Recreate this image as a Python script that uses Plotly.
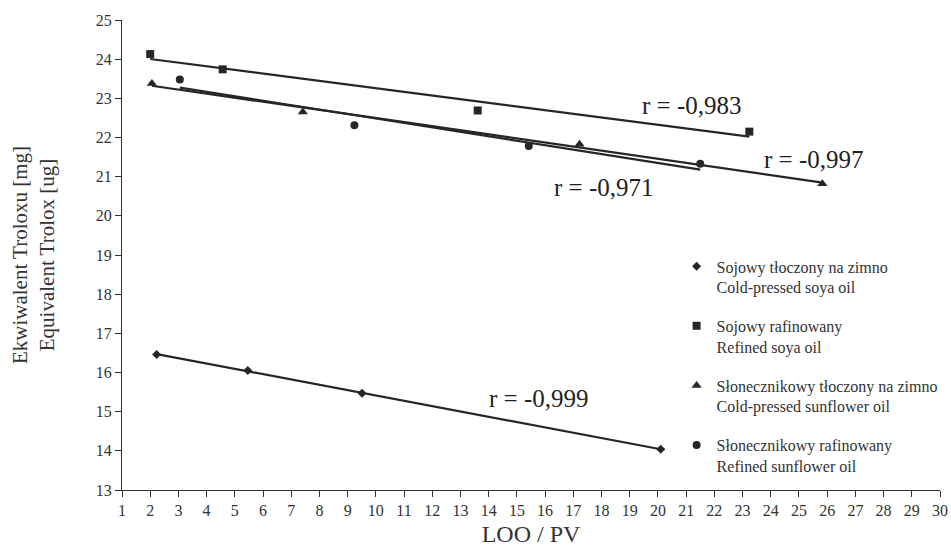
import numpy as np
import plotly.graph_objects as go

# Data
soy_cold_x = [2.23, 5.46, 9.51, 20.1]
soy_cold_y = [16.46, 16.05, 15.47, 14.04]
soy_ref_x = [2.0, 4.57, 13.61, 23.24]
soy_ref_y = [24.13, 23.74, 22.69, 22.15]
sun_cold_x = [2.06, 7.41, 17.22, 25.83]
sun_cold_y = [23.38, 22.65, 21.83, 20.82]
sun_ref_x = [3.05, 9.24, 15.42, 21.5]
sun_ref_y = [23.48, 22.31, 21.78, 21.33]

names = [
    "Sojowy tłoczony na zimno<br>Cold-pressed soya oil",
    "Sojowy rafinowany<br>Refined soya oil",
    "Słonecznikowy tłoczony na zimno<br>Cold-pressed sunflower oil",
    "Słonecznikowy rafinowany<br>Refined sunflower oil",
]
r_labels = ["r = -0,999", "r = -0,983", "r = -0,997", "r = -0,971"]
r_pos_x = [15.8, 21.2, 25.54, 18.1]
r_pos_y = [15.34, 22.82, 21.44, 20.73]
x_ticks = list(range(1, 31))
y_ticks = list(range(13, 26))

series = [
    (soy_cold_x, soy_cold_y, "diamond", 7),
    (soy_ref_x, soy_ref_y, "square", 8),
    (sun_cold_x, sun_cold_y, "triangle-up", 9),
    (sun_ref_x, sun_ref_y, "circle", 8),
]

COL = "#262626"
FONT = "Liberation Serif"

fig = go.Figure()
# trendlines
for (xs, ys, sym, sz) in series:
    a, b = np.polyfit(xs, ys, 1)
    lx = np.array([min(xs), max(xs)])
    fig.add_trace(go.Scatter(x=lx, y=a * lx + b, mode="lines",
                             line=dict(color=COL, width=2.2),
                             showlegend=False, hoverinfo="skip"))
# markers
for i, (xs, ys, sym, sz) in enumerate(series):
    fig.add_trace(go.Scatter(x=xs, y=ys, mode="markers", name=names[i],
                             legendgroup=f"g{i}",
                             marker=dict(symbol=sym, size=sz, color=COL)))

for t, x, y in zip(r_labels, r_pos_x, r_pos_y):
    fig.add_annotation(x=x, y=y, text=t, showarrow=False,
                       font=dict(family=FONT, size=25, color="#222"))

fig.update_layout(
    width=951, height=558,
    margin=dict(l=122, r=11, t=20, b=68, autoexpand=False),
    paper_bgcolor="white", plot_bgcolor="white",
    font=dict(family=FONT, color="#333", size=16),
    legend=dict(x=0.678, y=0.512, xanchor="left", yanchor="top",
                font=dict(family=FONT, size=16, color="#333"),
                tracegroupgap=15, valign="top", bgcolor="rgba(0,0,0,0)"),
    showlegend=True,
)
fig.update_xaxes(range=[1, 30], tickvals=x_ticks, ticks="outside", ticklen=6,
                 showline=True, linecolor="#333", linewidth=1, tickcolor="#333",
                 showgrid=False, zeroline=False, automargin=False,
                 tickfont=dict(family=FONT, size=16, color="#333"),
                 title=dict(text="LOO / PV", font=dict(family=FONT, size=24, color="#333"),
                            standoff=6))
fig.update_yaxes(range=[13, 25], tickvals=y_ticks, ticks="outside", ticklen=6,
                 showline=True, linecolor="#333", linewidth=1, tickcolor="#333",
                 showgrid=False, zeroline=False, automargin=False,
                 tickfont=dict(family=FONT, size=16, color="#333"),
                 title=dict(text="Ekwiwalent Troloxu [mg]<br>Equivalent Trolox [ug]",
                            font=dict(family=FONT, size=21, color="#333"),
                            standoff=35))

fig.write_html("out.html", config={"displayModeBar": False},
               post_script="document.body.style.margin='0';document.body.style.overflow='hidden';")
